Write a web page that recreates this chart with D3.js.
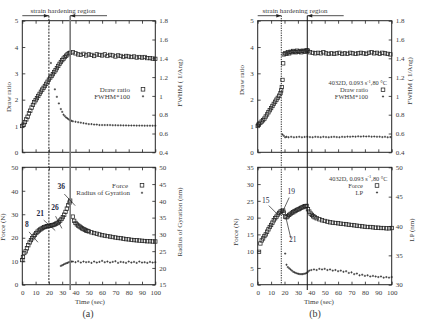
<!DOCTYPE html>
<html><head><meta charset="utf-8">
<script src="https://cdn.jsdelivr.net/npm/d3@7"></script>
<style>
body{margin:0;background:#fff;}
svg{display:block;font-family:"Liberation Serif","DejaVu Serif",serif;}
</style></head>
<body><svg id="c" width="422" height="321"></svg>
<script>
// ---------- Panel (a) data ----------
const aDrawT = [0,1,2,3,4,5,6,7,8,9,10,11,12,13,14,15,16,17,18,19,20,21,22,23,24,25,26,27,28,29,30,31,32,33,34,35,36,38,40,42,44,46,48,50,52,54,56,58,60,62,64,66,68,70,72,74,76,78,80,82,84,86,88,90,92,94,96,98,100];
const aDrawV = [1.00,1.05,1.15,1.25,1.35,1.48,1.58,1.70,1.80,1.90,1.98,2.06,2.14,2.22,2.30,2.38,2.45,2.52,2.60,2.68,2.76,2.84,2.90,2.97,3.05,3.12,3.20,3.28,3.36,3.43,3.50,3.56,3.62,3.67,3.72,3.76,3.78,3.80,3.76,3.72,3.70,3.74,3.68,3.72,3.70,3.66,3.72,3.70,3.68,3.72,3.66,3.70,3.68,3.64,3.68,3.66,3.62,3.66,3.64,3.62,3.64,3.60,3.62,3.60,3.62,3.58,3.58,3.56,3.55];
const aFwhmT = [21.5,24.5,26,27.5,29,30,31,32,33,34,35,36,37,38,40,42,44,46,48,50,52,54,56,58,60,62,64,66,68,70,72,74,76,78,80,82,84,86,88,90,92,94,96,98,100];
const aFwhmV = [1.35,1.07,0.99,0.92,0.86,0.83,0.80,0.785,0.77,0.76,0.75,0.74,0.735,0.73,0.725,0.72,0.715,0.71,0.705,0.70,0.70,0.695,0.695,0.69,0.69,0.69,0.69,0.69,0.688,0.688,0.687,0.687,0.686,0.686,0.685,0.685,0.685,0.684,0.684,0.684,0.683,0.683,0.683,0.683,0.683];
const aForceT = [0,0.5,1.5,2.5,3.5,4.5,5.5,6.5,7.5,8.5,9.5,10.5,11.5,12.5,13.5,14.5,15.5,16.5,17.5,18.5,19.5,20.5,21.5,22.5,23.5,24.5,25.5,26.5,27.5,28.5,29.5,30.5,31.5,32.5,33.5,34.5,35.5,36,38,39,40,41,42,43,44,45,46,47,48,49,50,52,54,56,58,60,62,64,66,68,70,72,74,76,78,80,82,84,86,88,90,92,94,96,98,100];
const aForceV = [10.5,11.8,13.5,14.2,15.5,16.8,18.0,19.0,19.8,20.6,21.3,22.0,22.6,23.1,23.5,23.9,24.2,24.5,24.7,24.9,25.0,25.1,25.2,25.3,25.5,25.7,26.0,26.3,26.7,27.3,28.0,28.8,29.8,31.0,32.4,33.8,35.0,35.8,29.0,27.2,26.3,25.7,25.2,24.8,24.4,24.0,23.7,23.4,23.1,22.9,22.7,22.3,22.0,21.7,21.4,21.1,20.9,20.7,20.5,20.3,20.1,19.9,19.8,19.6,19.4,19.3,19.1,19.0,18.9,18.8,18.7,18.6,18.5,18.5,18.4,18.4];
const aRgT = [29,30,31,32,33,34,35,36,37,38,40,42,44,46,48,50,52,54,56,58,60,62,64,66,68,70,72,74,76,78,80,82,84,86,88,90,92,94,96,98,100];
const aRgV = [20.6,20.8,21.0,21.2,21.4,21.5,21.7,21.8,21.9,21.9,21.7,22.0,21.6,21.9,21.7,21.8,21.5,21.9,21.6,21.8,22.1,21.7,21.9,21.6,21.8,22.0,21.5,21.8,21.7,21.5,21.9,21.6,21.8,21.5,21.9,21.6,21.7,21.5,21.8,21.6,21.7];

// ---------- Panel (b) data ----------
const bDrawT = [0,0.5,1,2,3,4,5,6,7,8,9,10,11,12,13,14,15,16,17,17.5,18,18.5,19,19.5,20.5,21.5,22.5,23.5,24.5,25.5,26.5,27.5,28.5,29.5,30.5,31.5,32.5,33.5,34.5,35.5,36.5,37.5,39,41,43,45,47,49,51,53,55,57,59,61,63,65,67,69,71,73,75,77,79,81,83,85,87,89,91,93,95,97,99];
const bDrawV = [1.00,1.05,1.08,1.12,1.17,1.22,1.28,1.36,1.44,1.52,1.60,1.68,1.76,1.84,1.92,2.00,2.07,2.15,2.25,2.35,2.48,2.75,3.38,3.72,3.76,3.74,3.80,3.76,3.82,3.80,3.85,3.82,3.80,3.86,3.82,3.84,3.80,3.86,3.84,3.82,3.88,3.86,3.80,3.78,3.76,3.78,3.76,3.80,3.76,3.74,3.76,3.74,3.76,3.78,3.74,3.76,3.74,3.78,3.76,3.74,3.76,3.78,3.76,3.74,3.78,3.80,3.76,3.78,3.74,3.78,3.76,3.74,3.72];
const bFwhmT = [18.5,19.5,20.5,21.5,23,25,27,29,31,33,35,37,39,41,43,45,47,49,51,53,55,57,59,61,63,65,67,69,71,73,75,77,79,81,83,85,87,89,91,93,95,97,99];
const bFwhmV = [0.59,0.575,0.56,0.565,0.56,0.565,0.56,0.562,0.565,0.56,0.563,0.565,0.562,0.56,0.565,0.563,0.56,0.565,0.562,0.56,0.563,0.565,0.562,0.56,0.565,0.563,0.567,0.565,0.568,0.566,0.57,0.567,0.57,0.568,0.57,0.566,0.568,0.565,0.566,0.562,0.565,0.56,0.562];
const bForceT = [1,2,3,4,5,6,7,8,9,10,11,12,13,14,15,16,17,18,19,19.5,20.5,21.5,22.5,23.5,24.5,25.5,26.5,27.5,28.5,29.5,30.5,31.5,32.5,33.5,34.5,35.5,36.5,37.5,38.5,39.5,40.5,41.5,42.5,44,46,48,50,52,54,56,58,60,62,64,66,68,70,72,74,76,78,80,82,84,86,88,90,92,94,96,98,100];
const bForceV = [9.8,12.3,13.2,13.8,14.5,15.0,15.8,16.5,17.2,17.8,18.5,19.2,19.8,20.3,20.9,21.4,21.8,22.0,22.1,21.5,20.3,20.1,20.4,20.8,21.1,21.4,21.6,21.9,22.1,22.3,22.5,22.7,22.9,23.1,23.3,23.4,23.5,22.5,21.8,21.2,20.8,20.4,20.1,19.8,19.5,19.2,19.0,18.8,18.6,18.5,18.4,18.3,18.2,18.1,18.0,17.9,17.8,17.7,17.6,17.5,17.4,17.3,17.2,17.2,17.1,17.0,17.0,16.9,16.9,16.8,16.8,16.9];
const bLpT = [20.5,21.5,22.5,23.5,24.5,25.5,26.5,27.5,28.5,29.5,30.5,31.5,32.5,33.5,34.5,35.5,36.5,37.5,38.5,40,42,44,46,48,50,52,54,56,58,60,62,64,66,68,70,72,74,76,78,80,82,84,86,88,90,92,94,96,98,100];
const bLpV = [35.3,33.4,33.0,32.8,32.6,32.4,32.2,32.1,32.0,31.9,31.85,31.8,31.8,31.8,31.85,31.9,32.0,32.2,32.4,32.5,32.6,32.5,32.7,32.6,32.7,32.5,32.6,32.4,32.5,32.3,32.4,32.2,32.3,32.0,32.1,31.8,31.9,31.6,31.7,31.5,31.6,31.4,31.5,31.4,31.3,31.4,31.2,31.3,31.2,31.3];

// ---------- tick values / labels ----------
const timeTicks = [0,10,20,30,40,50,60,70,80,90,100];
const drawTicks = [0,1,2,3,4,5];
const fwhmTicks = [0.4,0.6,0.8,1.0,1.2,1.4,1.6,1.8];
const aForceTicks = [0,10,20,30,40,50];
const rgTicks = [15,20,25,30,35,40,45,50];
const bForceTicks = [0,5,10,15,20,25,30,35];
const lpTicks = [30,35,40,45,50];
const aAnnots = [{t:8,v:20.2,label:"8"},{t:21,v:25.2,label:"21"},{t:26,v:26.1,label:"26"},{t:36,v:35.8,label:"36"}];
const bAnnots = [{t:15,v:20.9,label:"15"},{t:19,v:22.1,label:"19"},{t:21,v:20.1,label:"21"}];

const svg = d3.select("#c");
const ink = "#222", txt = "#3a3a3a";
const FS = 7;

function fmtNum(d){ return (Math.round(d*10)/10).toString(); }

function plot(o){
  const g = svg.append("g");
  const x = d3.scaleLinear().domain([0,100]).range([o.x0,o.x1]);
  const yl = d3.scaleLinear().domain(o.ldom).range([o.y1,o.y0]);
  const yr = d3.scaleLinear().domain(o.rdom).range([o.y1,o.y0]);
  const ax = (a)=>a.tickSizeInner(-3).tickSizeOuter(0);
  const gl = g.append("g").attr("transform",`translate(${o.x0},0)`)
    .call(ax(d3.axisLeft(yl).tickValues(o.lt).tickFormat(fmtNum)).tickPadding(4));
  const gr = g.append("g").attr("transform",`translate(${o.x1},0)`)
    .call(ax(d3.axisRight(yr).tickValues(o.rt).tickFormat(o.rfmt||fmtNum)).tickPadding(4));
  const gb = g.append("g").attr("transform",`translate(0,${o.y1})`)
    .call(ax(d3.axisBottom(x).tickValues(timeTicks).tickFormat(o.xlab?d3.format("d"):"")).tickPadding(5));
  const gt = g.append("g").attr("transform",`translate(0,${o.y0})`)
    .call(ax(d3.axisTop(x).tickValues(timeTicks).tickFormat("")));
  [gl,gr,gb,gt].forEach(a=>{
    a.select(".domain").remove();
    a.selectAll("line").attr("stroke",ink).attr("stroke-width",0.8);
    a.selectAll("text").attr("font-size",FS).attr("fill",txt).attr("font-family","Liberation Serif");
  });
  g.append("rect").attr("x",o.x0).attr("y",o.y0).attr("width",o.x1-o.x0).attr("height",o.y1-o.y0)
    .attr("fill","none").attr("stroke",ink).attr("stroke-width",1);
  return {g,x,yl,yr};
}

function squares(p, ts, vs, scale, sz){
  p.g.append("g").selectAll("rect").data(ts.map((t,i)=>[t,vs[i]])).join("rect")
    .attr("x",d=>p.x(d[0])-sz/2).attr("y",d=>scale(d[1])-sz/2)
    .attr("width",sz).attr("height",sz).attr("fill","none").attr("stroke",ink).attr("stroke-width",0.75);
}
function pluses(p, ts, vs, scale){
  const s=1.1;
  p.g.append("g").selectAll("path").data(ts.map((t,i)=>[t,vs[i]])).join("path")
    .attr("d",d=>{const cx=p.x(d[0]), cy=scale(d[1]); return `M${cx-s},${cy}H${cx+s}M${cx},${cy-s}V${cy+s}`;})
    .attr("stroke",ink).attr("stroke-width",0.7);
}
function rtext(x,y,s,fs){
  return svg.append("text").attr("x",x).attr("y",y).attr("font-size",fs||FS).attr("fill",txt)
    .attr("text-anchor","end").text(s);
}
function vtitle(x,y,s){
  svg.append("text").attr("transform",`translate(${x},${y}) rotate(-90)`).attr("text-anchor","middle")
    .attr("font-size",FS).attr("fill",txt).text(s);
}
function legSquare(x,y){ svg.append("rect").attr("x",x-1.8).attr("y",y-1.8).attr("width",3.6).attr("height",3.6).attr("fill","none").attr("stroke",ink).attr("stroke-width",0.75); }
function legPlus(x,y){ svg.append("path").attr("d",`M${x-1.1},${y}H${x+1.1}M${x},${y-1.1}V${y+1.1}`).attr("stroke",ink).attr("stroke-width",0.7); }

function arrowHead(x,y,dir){
  svg.append("path").attr("d",`M${x},${y}L${x-dir*5},${y-1.8}L${x-dir*5},${y+1.8}Z`).attr("fill",ink);
}

function panel(P){
  const top = plot({x0:P.x0,x1:P.x1,y0:20.7,y1:152.3,ldom:[0,5],rdom:[0.4,1.8],lt:drawTicks,rt:fwhmTicks,xlab:false,
    rfmt:d=>d===1?"1":fmtNum(d)});
  const bot = plot({x0:P.x0,x1:P.x1,y0:167.3,y1:284.7,ldom:P.fdom,rdom:P.rdom,lt:P.ft,rt:P.rt,xlab:true});
  const xd = top.x(P.tDash), xs = top.x(P.tSolid);
  svg.append("line").attr("x1",xd).attr("x2",xd).attr("y1",15.7).attr("y2",284.7)
    .attr("stroke",ink).attr("stroke-width",1).attr("stroke-dasharray",P.dash);
  svg.append("line").attr("x1",xs).attr("x2",xs).attr("y1",15.7).attr("y2",290)
    .attr("stroke",P.solidColor).attr("stroke-width",P.solidW);
  svg.append("text").attr("x",P.titleX).attr("y",12.5).attr("text-anchor","middle").attr("font-size",FS).attr("fill",txt).text("strain hardening region");
  svg.append("line").attr("x1",P.x0).attr("x2",xd).attr("y1",15.7).attr("y2",15.7).attr("stroke",ink).attr("stroke-width",0.8);
  arrowHead(xd,15.7,1);
  svg.append("line").attr("x1",xs).attr("x2",P.arrowEnd).attr("y1",15.7).attr("y2",15.7).attr("stroke",ink).attr("stroke-width",0.8);
  arrowHead(xs,15.7,-1);
  return {top,bot};
}

// ---------- Panel (a) ----------
const A = panel({x0:22.3,x1:155.3,fdom:[0,50],rdom:[15,50],ft:aForceTicks,rt:rgTicks,tDash:20,tSolid:36,
  dash:"2,1.2",solidColor:"#7a7a7a",solidW:1.6,titleX:63,arrowEnd:107});
squares(A.top, aDrawT, aDrawV, A.top.yl, 3.4);
pluses(A.top, aFwhmT, aFwhmV, A.top.yr);
squares(A.bot, aForceT, aForceV, A.bot.yl, 3.4);
pluses(A.bot, aRgT, aRgV, A.bot.yr);
rtext(130,91.5,"Draw ratio"); legSquare(143,89.3);
rtext(130,98.5,"FWHM*100"); legPlus(143,96.3);
rtext(128,187.5,"Force"); legSquare(142,185.3);
rtext(130,195,"Radius of Gyration"); legPlus(142,192.8);
vtitle(11,97,"Draw ratio");
vtitle(182,83,"FWHM ( 1/Ang)");
vtitle(5,227,"Force (N)");
vtitle(182,222,"Radius of Gyration (nm)");
svg.append("text").attr("x",90).attr("y",304).attr("text-anchor","middle").attr("font-size",FS).attr("fill",txt).text("Time (sec)");
svg.append("text").attr("x",88).attr("y",317).attr("text-anchor","middle").attr("font-size",10).attr("fill",txt).text("(a)");
const aOff = {"8":[-6,-9],"21":[-10,-9],"26":[-2,-12],"36":[-9,-11]};
aAnnots.forEach(a=>{
  const px=A.bot.x(a.t), py=A.bot.yl(a.v), o=aOff[a.label];
  svg.append("line").attr("x1",px+o[0]*0.65).attr("y1",py+o[1]*0.6).attr("x2",px+5).attr("y2",py+5)
    .attr("stroke",ink).attr("stroke-width",0.7);
  svg.append("text").attr("x",px+o[0]).attr("y",py+o[1]-1).attr("text-anchor","middle").attr("font-size",7.5)
    .attr("font-weight","bold").attr("fill","#1f2a44").text(a.label);
});

// ---------- Panel (b) ----------
const B = panel({x0:257.7,x1:391.7,fdom:[0,35],rdom:[30,50],ft:bForceTicks,rt:lpTicks,tDash:17.6,tSolid:37,
  dash:"1.2,1.2",solidColor:"#111",solidW:1,titleX:295,arrowEnd:343.7});
squares(B.top, bDrawT, bDrawV, B.top.yl, 3.4);
pluses(B.top, bFwhmT, bFwhmV, B.top.yr);
squares(B.bot, bForceT, bForceV, B.bot.yl, 3.4);
pluses(B.bot, bLpT, bLpV, B.bot.yr);
svg.append("text").attr("x",387).attr("y",85).attr("text-anchor","end").attr("font-size",6.3).attr("fill",txt)
  .html('4032D, 0.093 s<tspan dy="-2.3" font-size="4.5">-1</tspan><tspan dy="2.3">,80 °C</tspan>');
rtext(368,92.3,"Draw ratio",6.5); legSquare(383,89.8);
rtext(368,99,"FWHM*100",6.5); legPlus(383,96.5);
svg.append("text").attr("x",387.5).attr("y",180.5).attr("text-anchor","end").attr("font-size",6.3).attr("fill",txt)
  .html('4032D, 0.093 s<tspan dy="-2.3" font-size="4.5">-1</tspan><tspan dy="2.3">,80 °C</tspan>');
rtext(363,188,"Force",6.5); legSquare(377,185.5);
rtext(363,195,"LP",6.5); legPlus(377,192.5);
vtitle(244,80,"Draw ratio");
vtitle(412,81,"FWHM ( 1/Ang)");
vtitle(238,232,"Force (N)");
vtitle(414,230,"LP (nm)");
svg.append("text").attr("x",319).attr("y",304).attr("text-anchor","middle").attr("font-size",FS).attr("fill",txt).text("Time (sec)");
svg.append("text").attr("x",315).attr("y",317).attr("text-anchor","middle").attr("font-size",10).attr("fill",txt).text("(b)");
const bAnn = {"15":{lx:-12,ly:-12,sx:-9,sy:-9},"19":{lx:8,ly:-17,sx:6,sy:-13},"21":{lx:7,ly:25,sx:5,sy:21}};
bAnnots.forEach(a=>{
  const px=B.bot.x(a.t), py=B.bot.yl(a.v), o=bAnn[a.label];
  svg.append("line").attr("x1",px+o.sx).attr("y1",py+o.sy).attr("x2",px).attr("y2",py)
    .attr("stroke",ink).attr("stroke-width",0.7);
  svg.append("text").attr("x",px+o.lx).attr("y",py+o.ly).attr("text-anchor","middle").attr("font-size",7.5)
    .attr("fill","#1f2a44").text(a.label);
});
</script></body></html>
